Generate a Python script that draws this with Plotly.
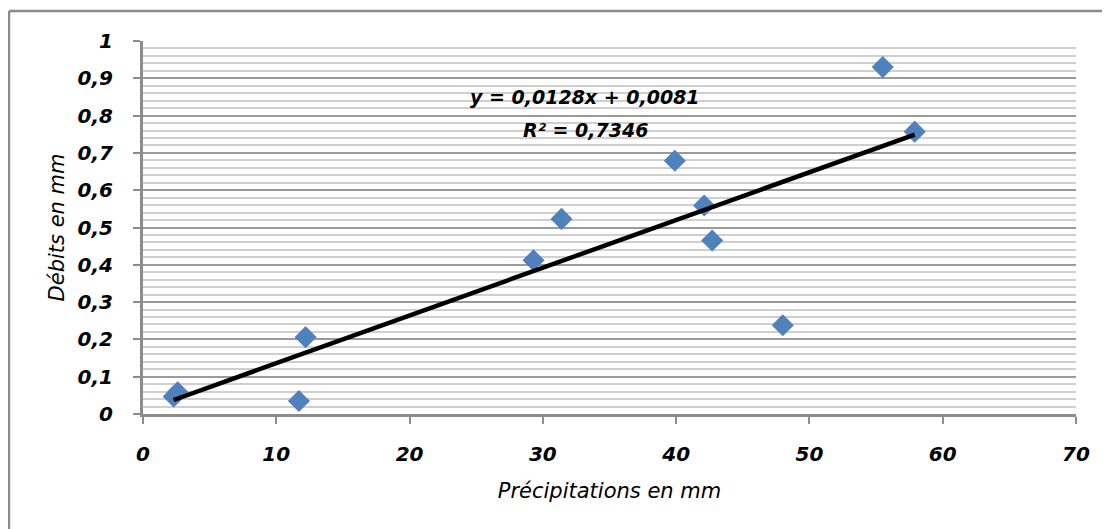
import plotly.graph_objects as go

# Data
precip_mm = [2.3, 2.6, 11.7, 12.2, 29.3, 31.4, 39.9, 42.1, 42.7, 48.0, 55.5, 57.9]
debits_mm = [0.047, 0.058, 0.035, 0.206, 0.412, 0.523, 0.679, 0.559, 0.465, 0.238, 0.930, 0.757]

# Linear trend (as displayed on the chart)
slope = 0.0128
intercept = 0.0081
r2_text = "0,7346"

xtick_vals = [0, 10, 20, 30, 40, 50, 60, 70]
xtick_text = ["0", "10", "20", "30", "40", "50", "60", "70"]
ytick_vals = [0, 0.1, 0.2, 0.3, 0.4, 0.5, 0.6, 0.7, 0.8, 0.9, 1.0]
ytick_text = ["0", "0,1", "0,2", "0,3", "0,4", "0,5", "0,6", "0,7", "0,8", "0,9", "1"]

FONT = "'DejaVu Sans', sans-serif"

x_min, x_max = min(precip_mm), max(precip_mm)
trend_x = [x_min, x_max]
trend_y = [slope * v + intercept for v in trend_x]

fig = go.Figure()
fig.add_trace(go.Scatter(
    x=precip_mm, y=debits_mm, mode="markers",
    marker=dict(symbol="diamond", size=17, color="#4F81BD",
                line=dict(width=0)),
    showlegend=False, cliponaxis=False,
))
fig.add_trace(go.Scatter(
    x=trend_x, y=trend_y, mode="lines",
    line=dict(color="#000000", width=4.5),
    showlegend=False,
))

# page body has an 8px margin: size the figure so the plot lands where the reference has it
OFF = 8
WIN_W, WIN_H = 1110, 529
W, H = WIN_W - OFF, WIN_H - OFF
ml, mr, mt, mb = 143 - OFF, 34, 41 - OFF, 115
pw, ph = W - ml - mr, H - mt - mb
frame_x = (9 - 143) / pw
frame_y = (414 - 11) / ph

fig.update_layout(
    width=W, height=H,
    margin=dict(l=ml, r=mr, t=mt, b=mb, autoexpand=False),
    paper_bgcolor="white", plot_bgcolor="white",
    separators=", ",
    font=dict(family=FONT, color="#000000"),
    xaxis=dict(
        range=[0, 70], tickvals=xtick_vals, ticktext=xtick_text,
        showgrid=False, zeroline=False,
        showline=True, linecolor="#8c8c8c", linewidth=3,
        ticks="outside", ticklen=7, tickwidth=2, tickcolor="#8c8c8c",
        ticklabelstandoff=13,
        tickfont=dict(family=FONT, size=20, style="italic", weight="bold"),
        title=dict(text="Précipitations en mm", standoff=19,
                   font=dict(family=FONT, size=21, style="italic")),
    ),
    yaxis=dict(
        range=[0, 1], tickvals=ytick_vals, ticktext=ytick_text,
        showgrid=True, gridcolor="#9a9a9a", gridwidth=1.5,
        zeroline=False,
        showline=True, linecolor="#8c8c8c", linewidth=3,
        ticks="outside", ticklen=7, tickwidth=2, tickcolor="#8c8c8c",
        ticklabelstandoff=16,
        tickfont=dict(family=FONT, size=20, style="italic", weight="bold"),
        minor=dict(dtick=0.02, showgrid=True, gridcolor="#cfcfcf", gridwidth=1.5),
        title=dict(text="Débits en mm", standoff=8,
                   font=dict(family=FONT, size=21, style="italic")),
    ),
    shapes=[
        dict(type="line", xref="paper", yref="paper",
             x0=frame_x, x1=frame_x, y0=-1, y1=frame_y,
             line=dict(color="#8c8c8c", width=2.5)),
        dict(type="line", xref="paper", yref="paper",
             x0=frame_x, x1=2, y0=frame_y, y1=frame_y,
             line=dict(color="#8c8c8c", width=2.5)),
    ],
    annotations=[
        dict(x=0.474, y=0.850, xref="paper", yref="paper",
             text=f"y = {str(slope).replace('.', ',')}x + {str(intercept).replace('.', ',')}",
             showarrow=False, xanchor="center", yanchor="middle",
             font=dict(family=FONT, size=19, style="italic", weight="bold")),
        dict(x=0.474, y=0.761, xref="paper", yref="paper",
             text=f"R² = {r2_text}",
             showarrow=False, xanchor="center", yanchor="middle",
             font=dict(family=FONT, size=19, style="italic", weight="bold")),
    ],
)

fig.write_html("out.html")
